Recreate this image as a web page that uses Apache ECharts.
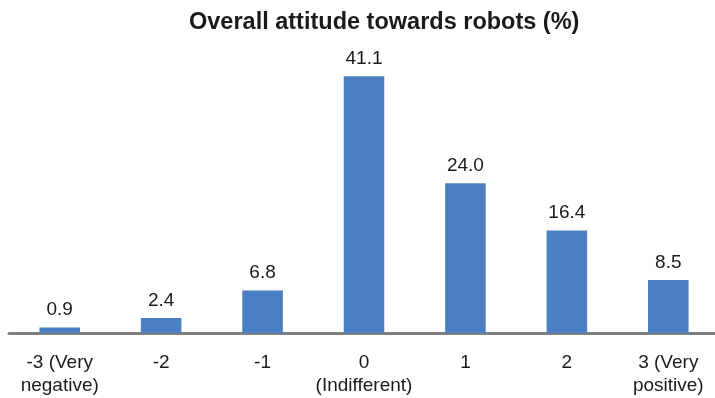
<!DOCTYPE html>
<html>
<head>
<meta charset="utf-8">
<script src="https://cdn.jsdelivr.net/npm/echarts@6/dist/echarts.min.js"></script>
<style>
  html, body { margin: 0; padding: 0; background: #fff; overflow: hidden; }
  /* a bit wider than the window so the last column runs off the right edge like the reference */
  #chart { width: 720px; height: 398px; }
</style>
</head>
<body>
<div id="chart"></div>
<script>
const categories = ['-3 (Very\nnegative)', '-2', '-1', '0\n(Indifferent)', '1', '2', '3 (Very\npositive)']
const values = [0.9, 2.4, 6.8, 41.1, 24.0, 16.4, 8.5]

const chart = echarts.init(document.getElementById('chart'))

chart.setOption({
  animation: false,
  title: {
    text: 'Overall attitude towards robots (%)',
    left: 184,
    top: 6,
    textStyle: { fontFamily: 'Liberation Sans', fontSize: 23.5, fontWeight: 'bold', color: '#1a1a1a' }
  },
  grid: { left: 9, right: 1, top: 52, bottom: 62 },
  xAxis: {
    type: 'category',
    data: categories,
    axisLine: { lineStyle: { color: '#7f7f7f', width: 3 } },
    axisTick: { show: false },
    axisLabel: {
      color: '#1a1a1a',
      fontFamily: 'Liberation Sans',
      fontSize: 19,
      lineHeight: 23.5,
      margin: 18,
      interval: 0
    }
  },
  yAxis: {
    type: 'value',
    min: 0,
    max: 45,
    show: false
  },
  series: [{
    type: 'bar',
    data: values,
    barWidth: '40%',
    itemStyle: { color: '#4a7fc1' },
    label: {
      show: true,
      position: 'top',
      distance: 8,
      color: '#1a1a1a',
      fontFamily: 'Liberation Sans',
      fontSize: 19,
      formatter: p => p.value.toFixed(1)
    }
  }]
})
</script>
</body>
</html>
